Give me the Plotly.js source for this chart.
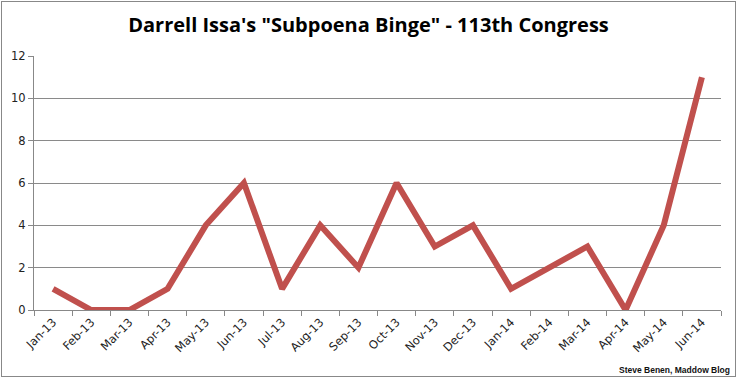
<!DOCTYPE html>
<html><head><meta charset="utf-8">
<script src="https://cdn.plot.ly/plotly-3.0.1.min.js"></script>
<style>body{margin:0;padding:0;background:#fff}#c{width:737px;height:378px}#b{position:absolute;left:1px;top:1px;width:733px;height:374px;border:1px solid #888;pointer-events:none}</style>
</head><body><div id="c"></div><div id="b"></div>
<script>
const months = ["Jan-13","Feb-13","Mar-13","Apr-13","May-13","Jun-13","Jul-13","Aug-13","Sep-13","Oct-13","Nov-13","Dec-13","Jan-14","Feb-14","Mar-14","Apr-14","May-14","Jun-14"];
const subpoenas = [1,0,0,1,4,6,1,4,2,6,3,4,1,2,3,0,4,11];
const titleText = 'Darrell Issa\'s "Subpoena Binge" - 113th Congress';
const creditText = 'Steve Benen, Maddow Blog';

Plotly.newPlot('c', [{
  x: months, y: subpoenas, type: 'scatter', mode: 'lines',
  line: {color: '#C0504D', width: 6}, cliponaxis: false
}], {
  width: 737, height: 378,
  margin: {l: 34, r: 16, t: 56, b: 68},
  paper_bgcolor: '#fff', plot_bgcolor: '#fff',
  showlegend: false,
  title: {text: '<b>' + titleText + '</b>', x: 0.5, xref: 'container', y: 0.935, yanchor: 'middle',
    font: {family: 'Open Sans, Arial, sans-serif', size: 20, color: '#000'}},
  xaxis: {type: 'category', range: [-0.5, 17.5], tickangle: -45, showgrid: false,
    showline: true, linecolor: '#888', linewidth: 1, ticks: 'outside', tickson: 'boundaries',
    ticklen: 5, tickcolor: '#888', tickfont: {family: 'DejaVu Sans, sans-serif', size: 11.5, color: '#222'}},
  yaxis: {range: [0, 12], dtick: 2, showgrid: true, gridcolor: '#8a8a8a', gridwidth: 1,
    showline: true, linecolor: '#888', ticks: 'outside', ticklen: 5, tickcolor: '#888',
    zeroline: false, tickfont: {family: 'DejaVu Sans, sans-serif', size: 11.5, color: '#222'}},
  annotations: [{text: '<b>' + creditText + '</b>', xref: 'paper', yref: 'paper',
    x: 1.016, y: -0.236, xanchor: 'right', yanchor: 'middle', showarrow: false,
    font: {family: 'Liberation Sans, Arial, sans-serif', size: 8.5, color: '#111'}}]
}, {displayModeBar: false, staticPlot: true});
</script></body></html>
